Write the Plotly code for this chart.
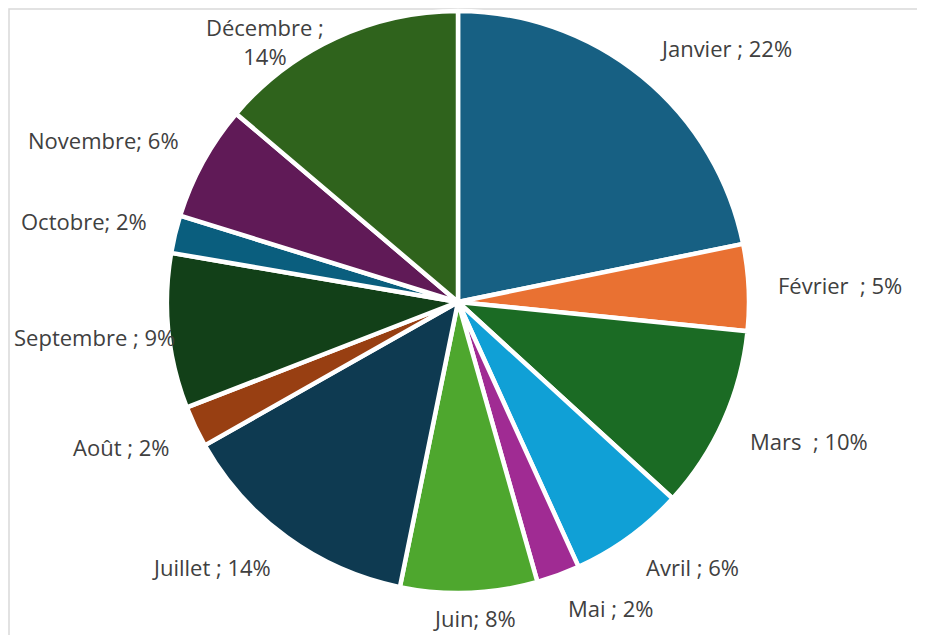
import math
import plotly.graph_objects as go

# ---- data ----
months = ["Janvier", "Février", "Mars", "Avril", "Mai", "Juin",
          "Juillet", "Août", "Septembre", "Octobre", "Novembre", "Décembre"]
values = [21.8, 4.8, 10.2, 6.4, 2.4, 7.6, 13.6, 2.3, 8.6, 2.1, 6.4, 13.8]
# separator text used between the month name and the percentage in each label
separators = [" ; ", "  ; ", "  ; ", " ; ", " ; ", "; ",
              " ; ", " ; ", " ; ", "; ", "; ", " ; "]
colors = ["#176083", "#E97132", "#1B6B24", "#10A0D6", "#A02B93", "#4EA72E",
          "#0E3A51", "#983F12", "#124018", "#0A5E7E", "#601A57", "#2F631C"]

# ---- layout constants (page pixels; the page body has an 8px margin) ----
OFF = 8
W, H = 925, 635
CX, CY, R = 458, 302, 291
GAP_X, GAP_Y = 29, 24
FONT_SIZE = 22
LINE_H = 29
GLYPH_H = 20
MINX, MAXX, MINY, MAXY = 15, 915, 13, 632

CHAR_W = {" ": .26, ";": .27, "%": .83, "i": .25, "l": .25, "j": .25, "r": .41,
          "t": .35, "m": .86, "v": .50, "e": .56, "é": .56, "a": .56, "n": .61,
          "o": .60, "b": .61, "p": .61, "s": .48, "u": .61, "û": .61, "c": .48,
          "J": .27, "F": .50, "M": .89, "A": .63, "N": .75, "S": .55, "O": .78,
          "D": .72}


def text_width(s):
    return sum(CHAR_W.get(ch, .57) for ch in s) * FONT_SIZE


def fx(px):
    return (px - OFF) / W


def fy(py):
    return 1 - (py - OFF) / H


fig = go.Figure(go.Pie(
    labels=months,
    values=values,
    sort=False,
    direction="clockwise",
    rotation=0,
    marker=dict(colors=colors, line=dict(color="white", width=4.5)),
    textinfo="none",
    hoverinfo="label+percent",
    showlegend=False,
    domain=dict(x=[fx(CX - R), fx(CX + R)],
                y=[fy(CY + R), fy(CY - R)]),
))

total = sum(values)
cum = 0.0
annotations = []
for name, v, sep in zip(months, values, separators):
    theta = 2 * math.pi * (cum + v / 2) / total
    cum += v
    pct = f"{round(v / total * 100)}%"
    s, c = math.sin(theta), math.cos(theta)
    px, py = CX + (R + GAP_X) * s, CY - (R + GAP_Y) * c
    ax = max(-1.0, min(1.0, s * 3))
    ay = max(-1.0, min(1.0, -c * 3))
    lines = [name + sep + pct]
    w = text_width(lines[0])
    h = GLYPH_H
    by = py + h / 2 * ay
    if by - LINE_H / 2 < MINY:
        lines = [name + sep.rstrip(), pct]
        w = max(text_width(l) for l in lines)
        h = GLYPH_H + LINE_H
        by = py + h / 2 * ay
    hb = h + (LINE_H - GLYPH_H)
    bx = px + w / 2 * ax
    bx = max(MINX + w / 2, min(MAXX - w / 2, bx))
    by = max(MINY + hb / 2, min(MAXY - hb / 2, by))
    annotations.append(dict(
        x=fx(bx), y=fy(by), xref="paper", yref="paper",
        text="<br>".join(lines), showarrow=False,
        xanchor="center", yanchor="middle", align="center",
        font=dict(family="Open Sans", size=FONT_SIZE, color="#404040"),
    ))

fig.update_layout(
    width=W, height=H,
    margin=dict(l=0, r=0, t=0, b=0),
    paper_bgcolor="white",
    plot_bgcolor="white",
    annotations=annotations,
    shapes=[dict(type="rect", xref="paper", yref="paper",
                 x0=fx(9), x1=1.05, y0=-0.05, y1=fy(9),
                 line=dict(color="#D9D9D9", width=1.5), layer="below")],
)

fig.write_html("out.html")
